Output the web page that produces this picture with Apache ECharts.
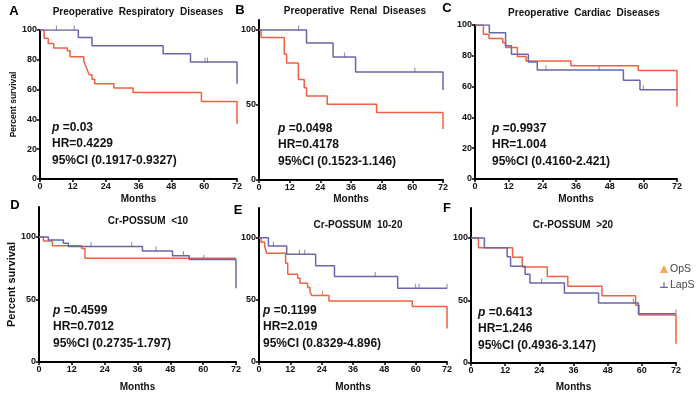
<!DOCTYPE html>
<html>
<head>
<meta charset="utf-8">
<script src="https://cdn.jsdelivr.net/npm/echarts@6/dist/echarts.min.js"></script>
<style>
  html, body { margin: 0; padding: 0; background: #fff; }
  #km { width: 700px; height: 397px; }
</style>
</head>
<body>
<div id="km"></div>
<script>
// month ticks shared by every panel
var monthTicks = [0, 12, 24, 36, 48, 60, 72];

// A - preoperative respiratory diseases
var respOpS = [[0,100],[1.5,94.5],[3,91],[5,88],[10,86],[11,82],[16,79],[16.7,76],[17.3,73],[18,70],[19,67],[20,64],[27,61],[34,58],[59,52],[72,37]];
var respLapS = [[0,100],[14,95],[19,89.5],[45,84],[55,78.5],[72,64]];
var respLapSCens = [[6,100],[12.5,100],[60.3,78.5],[61.2,78.5]];

// B - preoperative renal diseases
var renalOpS = [[0,100],[0.8,95],[9.9,84],[10.8,78],[15.4,67],[17.7,61.5],[18.6,56],[26.7,50.5],[46,45],[72,34]];
var renalLapS = [[0,100],[18.6,91.3],[29,82],[37.8,72],[72,60]];
var renalLapSCens = [[15.5,100],[33.5,82],[61,72]];

// C - preoperative cardiac diseases
var cardOpS = [[0,100],[3,94],[5,91.2],[9.9,88.4],[10.9,85.4],[15.1,79.6],[18.2,76.7],[34.2,73.5],[58.2,70.5],[72,47]];
var cardLapS = [[0,100],[5.1,95],[10.9,86.5],[13,81],[19,76],[22.2,70.7],[52.9,64.2],[58.8,58],[72,58]];
var cardLapSCens = [[25.3,70.7],[44.2,70.7],[60,58]];

// D - Cr-POSSUM <10
var lowOpS = [[0,100],[1.6,96.8],[4.9,93],[15.6,90.8],[16.8,83],[72,83]];
var lowLapS = [[0,100],[3.4,97.6],[8.9,95],[10.7,92.5],[37.8,88.8],[48.8,85],[54.9,82],[72,59]];
var lowLapSCens = [[19,92.5],[33.9,92.5],[42.8,88.8],[52.8,85],[60.2,82]];

// E - Cr-POSSUM 10-20
var midOpS = [[0,100],[0.8,96.5],[2.2,93],[2.9,87.6],[10.2,79.6],[11,70.7],[14.8,67.5],[15.7,63.4],[18.6,60],[19.5,56.7],[20.2,53.5],[26.8,49.2],[58.7,44.6],[72,27]];
var midOpSCens = [[24.3,53.5]];
var midLapS = [[0,100],[3.6,93.5],[10.6,86.8],[21.7,77.4],[28.9,68.8],[53.1,59.4],[72,59.4]];
var midLapSCens = [[5.5,93.5],[15.5,86.8],[17.5,86.8],[44.5,68.8],[60,59.4],[61.3,59.4],[72,59.4]];

// F - Cr-POSSUM >20
var highOpS = [[0,100],[2.6,92.3],[14.6,84.6],[18,76.9],[26.8,69.2],[34,61.5],[46,53.8],[57.8,46.2],[59,38.5],[72,15.4]];
var highLapS = [[0,100],[4.7,92.3],[12.7,85],[13.9,77.5],[19,71],[20.7,64],[32.8,56],[44.8,48],[58.8,39.5],[72,39.5]];
var highLapSCens = [[24.8,64],[57,48],[72,39.5]];

var titles = ['Preoperative  Respiratory  Diseases', 'Preoperative  Renal  Diseases', 'Preoperative  Cardiac  Diseases',
              'Cr-POSSUM  <10', 'Cr-POSSUM  10-20', 'Cr-POSSUM  >20'];
var pValues = ['0.03', '0.0498', '0.9937', '0.4599', '0.1199', '0.6413'];
var hrValues = ['0.4229', '0.4178', '1.004', '0.7012', '2.019', '1.246'];
var ciValues = ['0.1917-0.9327', '0.1523-1.146', '0.4160-2.421', '0.2735-1.797', '0.8329-4.896', '0.4936-3.147'];

var opsColor = '#EF6140';
var lapsColor = '#6A66A9';
var font = 'Liberation Sans, Arial, sans-serif';

var myChart = echarts.init(document.getElementById('km'));

// panel layout: grid box, y max, y ticks, text anchors
var panels = [
    { grid: {left:40, top:30, width:197, height:149}, max:100, ticks:[0,20,40,60,80,100], yName:true, yNameSize:8.5,
      ops:respOpS, laps:respLapS, opsCens:[], lapsCens:respLapSCens, letter:[14,11], title:[138,12], text:[52,127], monthGap:15 },
    { grid: {left:259, top:20, width:184, height:160}, max:106.67, ticks:[0,50,100], yName:false,
      ops:renalOpS, laps:renalLapS, opsCens:[], lapsCens:renalLapSCens, letter:[240,10], title:[355,11], text:[278,128], monthGap:14 },
    { grid: {left:475, top:25, width:202, height:154}, max:100, ticks:[0,20,40,60,80,100], yName:false,
      ops:cardOpS, laps:cardLapS, opsCens:[], lapsCens:cardLapSCens, letter:[447,8], title:[584,13], text:[492,128], monthGap:15 },
    { grid: {left:39, top:207, width:197, height:155}, max:124, ticks:[0,50,100], yName:true, yNameSize:11,
      ops:lowOpS, laps:lowLapS, opsCens:[], lapsCens:lowLapSCens, letter:[15,205], title:[148,221], text:[53,310], monthGap:20 },
    { grid: {left:259, top:208, width:188, height:154}, max:124, ticks:[0,50,100], yName:false,
      ops:midOpS, laps:midLapS, opsCens:midOpSCens, lapsCens:midLapSCens, letter:[238,210], title:[358,225], text:[263,310], monthGap:20 },
    { grid: {left:471, top:208, width:205, height:155}, max:124, ticks:[0,50,100], yName:false,
      ops:highOpS, laps:highLapS, opsCens:[], lapsCens:highLapSCens, letter:[447,208], title:[573,225], text:[478,312], monthGap:19 }
];

var grids = [], xAxes = [], yAxes = [], series = [], graphics = [];
var letters = ['A','B','C','D','E','F'];

panels.forEach(function(p, i) {
    grids.push(p.grid);
    xAxes.push({
        type: 'value', gridIndex: i, min: 0, max: 72, interval: 12,
        name: 'Months', nameLocation: 'middle', nameGap: p.monthGap,
        nameTextStyle: { fontFamily: font, fontWeight: 'bold', fontSize: 10, color: '#111' },
        axisLine: { lineStyle: { color: '#000', width: 2 } },
        axisTick: { length: 3, lineStyle: { color: '#000', width: 1.5 } },
        axisLabel: { fontFamily: font, fontWeight: 'bold', fontSize: 9, color: '#111', margin: 3 },
        splitLine: { show: false }
    });
    yAxes.push({
        type: 'value', gridIndex: i, min: 0, max: p.max,
        name: p.yName ? 'Percent survival' : '', nameLocation: 'middle', nameGap: 20,
        nameTextStyle: { fontFamily: font, fontWeight: 'bold', fontSize: p.yNameSize || 10, color: '#111' },
        axisLine: { onZero: false, lineStyle: { color: '#000', width: 2 } },
        axisTick: { length: 3, customValues: p.ticks, lineStyle: { color: '#000', width: 1.5 } },
        axisLabel: { customValues: p.ticks, fontFamily: font, fontWeight: 'bold', fontSize: 9, color: '#111', margin: 3 },
        splitLine: { show: false }
    });
    series.push({
        name: 'OpS', type: 'line', step: 'end', xAxisIndex: i, yAxisIndex: i,
        data: p.ops, showSymbol: false, silent: true,
        lineStyle: { color: opsColor, width: 1.5 }, itemStyle: { color: opsColor }, z: 3
    });
    series.push({
        name: 'LapS', type: 'line', step: 'end', xAxisIndex: i, yAxisIndex: i,
        data: p.laps, showSymbol: false, silent: true,
        lineStyle: { color: lapsColor, width: 1.5 }, itemStyle: { color: lapsColor }, z: 4
    });
    series.push({
        name: 'OpS censored', type: 'scatter', xAxisIndex: i, yAxisIndex: i,
        data: p.opsCens, symbol: 'rect', symbolSize: [1, 5], symbolOffset: [0, -2],
        itemStyle: { color: opsColor }, silent: true
    });
    series.push({
        name: 'LapS censored', type: 'scatter', xAxisIndex: i, yAxisIndex: i,
        data: p.lapsCens, symbol: 'rect', symbolSize: [1, 5], symbolOffset: [0, -2],
        itemStyle: { color: lapsColor }, silent: true
    });

    graphics.push({
        type: 'text', x: p.letter[0], y: p.letter[1],
        style: { text: letters[i], fontFamily: font, fontWeight: 'bold', fontSize: 13, fill: '#000',
                 align: 'center', verticalAlign: 'middle' }
    });
    graphics.push({
        type: 'text', x: p.title[0], y: p.title[1],
        style: { text: titles[i], fontFamily: font, fontWeight: 'bold', fontSize: 10, fill: '#111',
                 align: 'center', verticalAlign: 'middle' }
    });
    graphics.push({
        type: 'text', x: p.text[0], y: p.text[1] - 8,
        style: {
            text: '{i|p} =' + pValues[i] + '\nHR=' + hrValues[i] + '\n95%CI (' + ciValues[i] + ')',
            fontFamily: font, fontWeight: 'bold', fontSize: 12, lineHeight: 16.5, fill: '#111',
            rich: { i: { fontStyle: 'italic', fontWeight: 'bold', fontFamily: font, fontSize: 12, fill: '#111' } }
        }
    });
});

option = {
    animation: false,
    backgroundColor: '#fff',
    grid: grids,
    xAxis: xAxes,
    yAxis: yAxes,
    legend: {
        left: 655, top: 258, orient: 'vertical', itemGap: 4,
        itemWidth: 8, itemHeight: 8, selectedMode: false,
        textStyle: { fontFamily: font, fontSize: 10.5, color: '#444', lineHeight: 12, padding: [0, 0, 0, -3] },
        data: [
            { name: 'OpS', icon: 'triangle', itemStyle: { color: '#F5A656' } },
            { name: 'LapS', icon: 'path://M0,9L10,9L10,10.5L0,10.5Z M4.3,3L5.7,3L5.7,10L4.3,10Z', itemStyle: { color: lapsColor } }
        ]
    },
    series: series,
    graphic: graphics
};

myChart.setOption(option);
</script>
</body>
</html>
